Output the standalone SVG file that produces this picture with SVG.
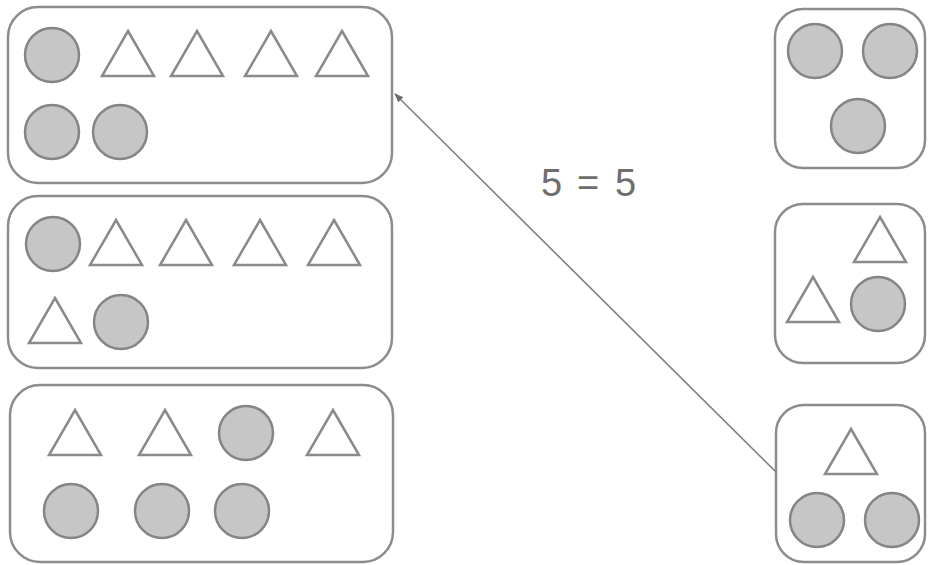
<svg xmlns="http://www.w3.org/2000/svg" xmlns:xlink="http://www.w3.org/1999/xlink" width="928" height="565" viewBox="0 0 928 565">
<style>
.box{fill:#ffffff;stroke:#8c8c8c;stroke-width:2.5}
.c{fill:#c6c6c6;stroke:#858585;stroke-width:2.5}
.t{fill:#ffffff;stroke:#8a8a8a;stroke-width:2.5;stroke-linejoin:miter}
.lbl{font-family:"Liberation Sans",Arial,sans-serif;font-size:38px;fill:#6e6e6e}
.conn{fill:none;stroke:#808080;stroke-width:1.6}
</style>
<defs>
<path id="tri" d="M0,0 L26,45 L-26,45 Z"/>
<marker id="arr" viewBox="0 0 10 10" refX="9" refY="5" markerWidth="10" markerHeight="9" orient="auto" markerUnits="userSpaceOnUse">
<path d="M0,1 L10,5 L0,9 Z" fill="#6e6e6e"/>
</marker>
</defs>
<rect width="928" height="565" fill="#ffffff"/>
<g id="connectors">
<line class="conn" x1="776" y1="472" x2="395" y2="94" marker-end="url(#arr)"/>
<text class="lbl" y="196"><tspan x="541">5</tspan><tspan x="577">=</tspan><tspan x="615">5</tspan></text>
</g>
<g id="box1">
<rect class="box" x="8" y="7" width="384" height="176" rx="30"/>
<circle class="c" cx="52" cy="55" r="27"/>
<use class="t" xlink:href="#tri" x="128" y="31"/>
<use class="t" xlink:href="#tri" x="197" y="31"/>
<use class="t" xlink:href="#tri" x="271" y="31"/>
<use class="t" xlink:href="#tri" x="342" y="31"/>
<circle class="c" cx="52" cy="132" r="27"/>
<circle class="c" cx="120" cy="132" r="27"/>
</g>
<g id="box2">
<rect class="box" x="8" y="196" width="384" height="172" rx="30"/>
<circle class="c" cx="53" cy="244" r="27"/>
<use class="t" xlink:href="#tri" x="116" y="220"/>
<use class="t" xlink:href="#tri" x="186" y="220"/>
<use class="t" xlink:href="#tri" x="260" y="220"/>
<use class="t" xlink:href="#tri" x="334" y="220"/>
<use class="t" xlink:href="#tri" x="55" y="298"/>
<circle class="c" cx="121" cy="322" r="27"/>
</g>
<g id="box3">
<rect class="box" x="10" y="385" width="383" height="177" rx="30"/>
<use class="t" xlink:href="#tri" x="75" y="410"/>
<use class="t" xlink:href="#tri" x="165" y="410"/>
<circle class="c" cx="246" cy="433" r="27"/>
<use class="t" xlink:href="#tri" x="333" y="410"/>
<circle class="c" cx="71" cy="511" r="27"/>
<circle class="c" cx="162" cy="511" r="27"/>
<circle class="c" cx="242" cy="511" r="27"/>
</g>
<g id="boxR1">
<rect class="box" x="775" y="9" width="150" height="159" rx="28"/>
<circle class="c" cx="815" cy="51" r="27"/>
<circle class="c" cx="890" cy="51" r="27"/>
<circle class="c" cx="858" cy="126" r="27"/>
</g>
<g id="boxR2">
<rect class="box" x="775" y="204" width="150" height="159" rx="28"/>
<use class="t" xlink:href="#tri" x="880" y="217"/>
<use class="t" xlink:href="#tri" x="813" y="277"/>
<circle class="c" cx="878" cy="304" r="27"/>
</g>
<g id="boxR3">
<rect class="box" x="776" y="405" width="149" height="157" rx="28"/>
<use class="t" xlink:href="#tri" x="851" y="429"/>
<circle class="c" cx="817" cy="520" r="27"/>
<circle class="c" cx="892" cy="520" r="27"/>
</g>
</svg>
